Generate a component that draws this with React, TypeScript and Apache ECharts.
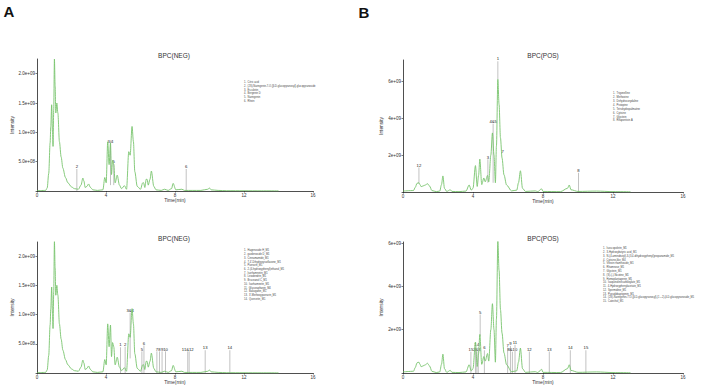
import React, { useEffect, useRef } from 'react';
import * as echarts from 'echarts';

// ---- Base peak chromatograms (time in min, intensity in units of 1e9) ----
const negTime = [0, 0.5, 0.59, 0.68, 0.76, 0.8, 0.85, 0.9, 0.93, 0.97, 1.01, 1.05, 1.09, 1.15, 1.21, 1.3, 1.4, 1.5, 1.65, 1.79, 2.0, 2.17, 2.4, 2.55, 2.66, 2.72, 2.79, 2.9, 2.99, 3.1, 3.24, 3.5, 3.82, 3.93, 4.01, 4.1, 4.18, 4.26, 4.32, 4.38, 4.45, 4.53, 4.65, 4.78, 4.9, 5.07, 5.19, 5.32, 5.4, 5.51, 5.59, 5.67, 5.81, 6.0, 6.13, 6.18, 6.25, 6.33, 6.38, 6.45, 6.55, 6.63, 6.77, 6.9, 7.2, 7.4, 7.6, 7.8, 7.89, 8.05, 8.4, 8.55, 9.0, 9.5, 9.9, 10.0, 10.1, 10.5, 11, 12, 13, 14];
const negIntensity = [0.005, 0.01, 0.05, 0.3, 0.82, 1.1, 1.47, 1.0, 0.76, 1.4, 2.25, 1.8, 1.33, 1.5, 1.33, 0.84, 0.58, 0.39, 0.23, 0.14, 0.07, 0.04, 0.03, 0.1, 0.22, 0.17, 0.06, 0.08, 0.12, 0.06, 0.02, 0.01, 0.02, 0.23, 0.14, 0.84, 0.45, 0.82, 0.28, 0.52, 0.45, 0.14, 0.27, 0.1, 0.04, 0.09, 0.03, 0.67, 0.61, 1.1, 0.84, 0.33, 0.08, 0.03, 0.14, 0.14, 0.06, 0.2, 0.2, 0.1, 0.2, 0.34, 0.08, 0.02, 0.01, 0.03, 0.01, 0.04, 0.13, 0.02, 0.03, 0.01, 0.01, 0.01, 0.03, 0.05, 0.02, 0.01, 0.005, 0.004, 0.003, 0.002];

const posTime = [0, 0.6, 0.7, 0.8, 0.91, 0.97, 1.04, 1.15, 1.28, 1.4, 1.52, 1.65, 1.9, 2.1, 2.2, 2.28, 2.37, 2.5, 2.7, 2.8, 3.2, 3.6, 3.78, 3.9, 4.0, 4.14, 4.24, 4.32, 4.39, 4.5, 4.62, 4.7, 4.83, 4.9, 5.02, 5.11, 5.2, 5.28, 5.34, 5.42, 5.49, 5.57, 5.66, 5.77, 5.92, 6.2, 6.5, 6.6, 6.71, 6.83, 7.0, 7.56, 7.7, 7.92, 8.0, 9.0, 9.4, 9.5, 9.6, 10.0, 11.06, 12, 13];
const posIntensity = [0.05, 0.08, 0.25, 0.47, 0.5, 0.4, 0.29, 0.33, 0.38, 0.45, 0.32, 0.08, 0.02, 0.05, 0.4, 0.87, 0.2, 0.03, 0.12, 0.03, 0.02, 0.05, 0.38, 0.1, 0.2, 1.43, 0.3, 0.9, 1.78, 0.4, 0.76, 0.55, 0.9, 0.55, 2.0, 3.2, 2.0, 0.5, 2.5, 6.1, 4.74, 2.93, 1.84, 0.93, 0.38, 0.06, 0.1, 0.5, 1.15, 0.2, 0.03, 0.06, 0.02, 0.17, 0.03, 0.02, 0.2, 0.38, 0.12, 0.03, 0.05, 0.02, 0.01];

// ---- Peak annotations: retention time, label, line top / line bottom (1e9) ----
const negTopMarkTime = [2.31, 4.26, 4.45, 8.65];
const negTopMarkLabel = ['2', '3/4', '5', '6'];
const negTopMarkTop = [0.375, 0.81, 0.46, 0.375];
const negTopMarkBase = [0, 0.1, 0.1, 0];

const posTopMarkTime = [0.91, 4.85, 5.15, 5.42, 5.7, 10.03];
const posTopMarkLabel = ['12', '3', '4&5', '1', '7', '8'];
const posTopMarkTop = [1.33, 1.77, 3.7, 7.08, 2.07, 1.04];
const posTopMarkBase = [0.45, 0.5, 0.5, 6.1, 2.07, 0];

const negBotMarkTime = [4.84, 5.11, 5.4, 6.08, 6.2, 6.95, 7.1, 7.25, 7.45, 8.74, 8.82, 9.75, 11.18];
const negBotMarkLabel = ['1', '2', '3&4', '5', '6', '7', '8', '9', '10', '11&12', '', '13', '14'];
const negBotMarkTop = [0.44, 0.45, 1.03, 0.37, 0.47, 0.37, 0.37, 0.37, 0.37, 0.37, 0.37, 0.39, 0.39];
const negBotMarkBase = [0, 0, 0.25, 0, 0, 0, 0, 0, 0, 0, 0, 0, 0];

const posBotMarkTime = [3.88, 4.14, 4.22, 4.3, 4.41, 4.65, 5.98, 6.14, 6.25, 6.4, 7.22, 8.36, 9.56, 10.45];
const posBotMarkLabel = ['15', '1', '2&3', '4', '5', '6', '7', '9', '8&10', '11', '12', '13', '14', '15'];
const posBotMarkTop = [0.98, 1.19, 0.98, 1.19, 2.7, 1.05, 1.17, 1.25, 0.98, 1.3, 0.99, 0.99, 1.05, 1.05];
const posBotMarkBase = [0, 0, 0, 0, 1.7, 0, 0, 0, 0, 0, 0, 0, 0, 0];

// ---- Identified compound lists ----
const negTopCompounds = ['Citric acid', '(2S)-Naringenin-7-O-[β-D-glucopyranosyl]-glucopyranoside', 'Esculetin', 'Bergenin D', 'Naringenin', 'Rhein'];
const posTopCompounds = ['Trigonelline', 'Methoxine', 'Dehydrocorydaline', 'Protopine', 'Tetrahydropalmatine', 'Cytisine', 'Glycitein', 'Rhaponticin A'];
const negBotCompounds = ['Hagenoside H_M1', 'gardenoside D_M1', 'Cinnamamide_M1', '7,4\'-Dihydroxyisoflavone_M1', 'Puerarin_M1', '2-(4-hydroxyphenyl)ethanol_M1', 'Isorhamnetin_M1', 'Liriodendrin_M1', 'Bruceanol C_M1', 'Isorhamnetin_M1', 'Glucoraphanin_M4', 'Bakuganin_M1', '3\'-Methoxypuerarin_M1', 'Quercetin_M1'];
const posBotCompounds = ['Isoscopoletin_M1', '3-Hydroxybutyric acid_M1', 'N-(4-aminobutyl)-3-(3,4-dihydroxyphenyl)propanamide_M1', 'Cytisine-like_M4', 'Vitexin rhamnoside_M1', 'Rhamnose_M1', 'Glycitein_M1', '(S)-(-)-Nicotine_M1', 'Homoplantagenin_M1', 'Isoquinolinecarboxylate_M1', '4-Hydroxyphenylacetate_M1', 'Spermidine_M1', 'Pseudobaptigenin_M1', '(2S)-Naringenin-7-O-[β-D-glucopyranosyl]-(1→2)-β-D-glucopyranoside_M1', 'Catechol_M1'];

const xTicks = [0, 4, 8, 12, 16];

const FONT = 'Liberation Sans, Arial, sans-serif';
const GREEN = '#78c46d';
const MARK = '#c2c2c2';

const sci = (digits: number) => (v: number) => {
  if (v <= 0) return '';
  const n = v * 1e9;
  const e = Math.floor(Math.log10(n) + 1e-9);
  const m = n / Math.pow(10, e);
  return m.toFixed(digits) + 'e+' + String(e).padStart(2, '0');
};

const zip = (t: number[], y: number[]) => t.map((x, i) => [x, y[i]]);

function markers(idx: number, times: number[], labels: string[], tops: number[], bases: number[]) {
  return {
    type: 'custom',
    xAxisIndex: idx,
    yAxisIndex: idx,
    z: 1,
    clip: false,
    silent: true,
    data: times.map((t, i) => [t, tops[i], bases[i], i]),
    encode: { x: 0, y: 1 },
    renderItem: (_p: any, api: any) => {
      const i = api.value(3);
      const a = api.coord([api.value(0), api.value(1)]);
      const b = api.coord([api.value(0), api.value(2)]);
      return {
        type: 'group',
        children: [
          { type: 'line', shape: { x1: a[0], y1: a[1], x2: b[0], y2: b[1] }, style: { stroke: MARK, lineWidth: 1 } },
          { type: 'text', x: a[0], y: a[1] - 0.3, style: { text: labels[i], fontSize: 4.2, fontFamily: FONT, fill: '#222', align: 'center', verticalAlign: 'bottom' } },
        ],
      };
    },
  };
}

function legendText(x: number, y: number, names: string[], lh: number) {
  return {
    type: 'text',
    left: x,
    top: y,
    style: {
      text: names.map((n, i) => `${i + 1}.  ${n}`).join('\n'),
      fontSize: 2.6,
      lineHeight: lh,
      fontFamily: FONT,
      fill: '#444',
    },
  };
}

function label(text: string, x: number, y: number, size: number, bold = false) {
  return {
    type: 'text',
    x,
    y,
    style: { text, fontSize: size, fontWeight: bold ? 'bold' : 'normal', fontFamily: FONT, fill: bold ? '#111' : '#333', align: 'center', verticalAlign: 'middle' },
  };
}

const grids = [
  { left: 37, top: 59, width: 276, height: 132 },
  { left: 403, top: 60, width: 280, height: 132 },
  { left: 37, top: 242, width: 276, height: 131 },
  { left: 403, top: 242, width: 280, height: 131 },
];
const yMax = [2.25, 7.15, 2.24, 6.05];
const yStep = [0.5, 2, 0.5, 2];
const yDigits = [1, 0, 1, 0];
const yGap = [18, 13, 18, 13];

export default function App() {
  const ref = useRef<HTMLDivElement>(null);
  useEffect(() => {
    if (!ref.current) return;
    const chart = echarts.init(ref.current, undefined, { renderer: 'svg' });
    const axisText = { fontSize: 4.5, color: '#333', fontFamily: FONT };
    const option: any = {
      animation: false,
      backgroundColor: '#fff',
      grid: grids,
      xAxis: grids.map((_, i) => ({
        type: 'value',
        gridIndex: i,
        min: xTicks[0],
        max: xTicks[xTicks.length - 1],
        interval: xTicks[1] - xTicks[0],
        name: 'Time(min)',
        nameLocation: 'middle',
        nameGap: 7,
        nameTextStyle: { fontSize: 4.8, color: '#333', fontFamily: FONT },
        axisLine: { lineStyle: { color: '#222', width: 0.8 } },
        axisTick: { length: 1.5, lineStyle: { color: '#222', width: 0.6 } },
        axisLabel: { ...axisText, margin: 1.5 },
        splitLine: { show: false },
      })),
      yAxis: grids.map((_, i) => ({
        type: 'value',
        gridIndex: i,
        min: 0,
        max: yMax[i],
        interval: yStep[i],
        name: 'Intensity',
        nameLocation: 'middle',
        nameRotate: 90,
        nameGap: yGap[i],
        nameTextStyle: { fontSize: 4.8, color: '#333', fontFamily: FONT },
        axisLine: { show: true, lineStyle: { color: '#222', width: 0.8 } },
        axisTick: { show: true, length: 1.5, lineStyle: { color: '#222', width: 0.6 } },
        axisLabel: { ...axisText, margin: 2, showMaxLabel: false, formatter: sci(yDigits[i]) },
        splitLine: { show: false },
      })),
      series: [
        ...[zip(negTime, negIntensity), zip(posTime, posIntensity), zip(negTime, negIntensity), zip(posTime, posIntensity)].map((d, i) => ({
          type: 'line',
          xAxisIndex: i,
          yAxisIndex: i,
          data: d,
          showSymbol: false,
          smooth: 0.3,
          smoothMonotone: 'x',
          z: 3,
          lineStyle: { color: GREEN, width: 0.9 },
          silent: true,
        })),
        markers(0, negTopMarkTime, negTopMarkLabel, negTopMarkTop, negTopMarkBase),
        markers(1, posTopMarkTime, posTopMarkLabel, posTopMarkTop, posTopMarkBase),
        markers(2, negBotMarkTime, negBotMarkLabel, negBotMarkTop, negBotMarkBase),
        markers(3, posBotMarkTime, posBotMarkLabel, posBotMarkTop, posBotMarkBase),
      ],
      graphic: [
        label('A', 9, 11, 15, true),
        label('B', 364, 12, 15, true),
        label('BPC(NEG)', 174, 55, 6.5),
        label('BPC(POS)', 543, 55, 6.5),
        label('BPC(NEG)', 174, 238, 6.5),
        label('BPC(POS)', 543, 238, 6.5),
        legendText(244, 81, negTopCompounds, 3.7),
        legendText(613, 92, posTopCompounds, 3.85),
        legendText(244, 249, negBotCompounds, 3.72),
        legendText(603, 247, posBotCompounds, 3.76),
      ],
    };
    chart.setOption(option);
    return () => chart.dispose();
  }, []);
  return <div ref={ref} style={{ position: 'fixed', left: 0, top: 0, width: 709, height: 388, background: '#fff' }} />;
}
